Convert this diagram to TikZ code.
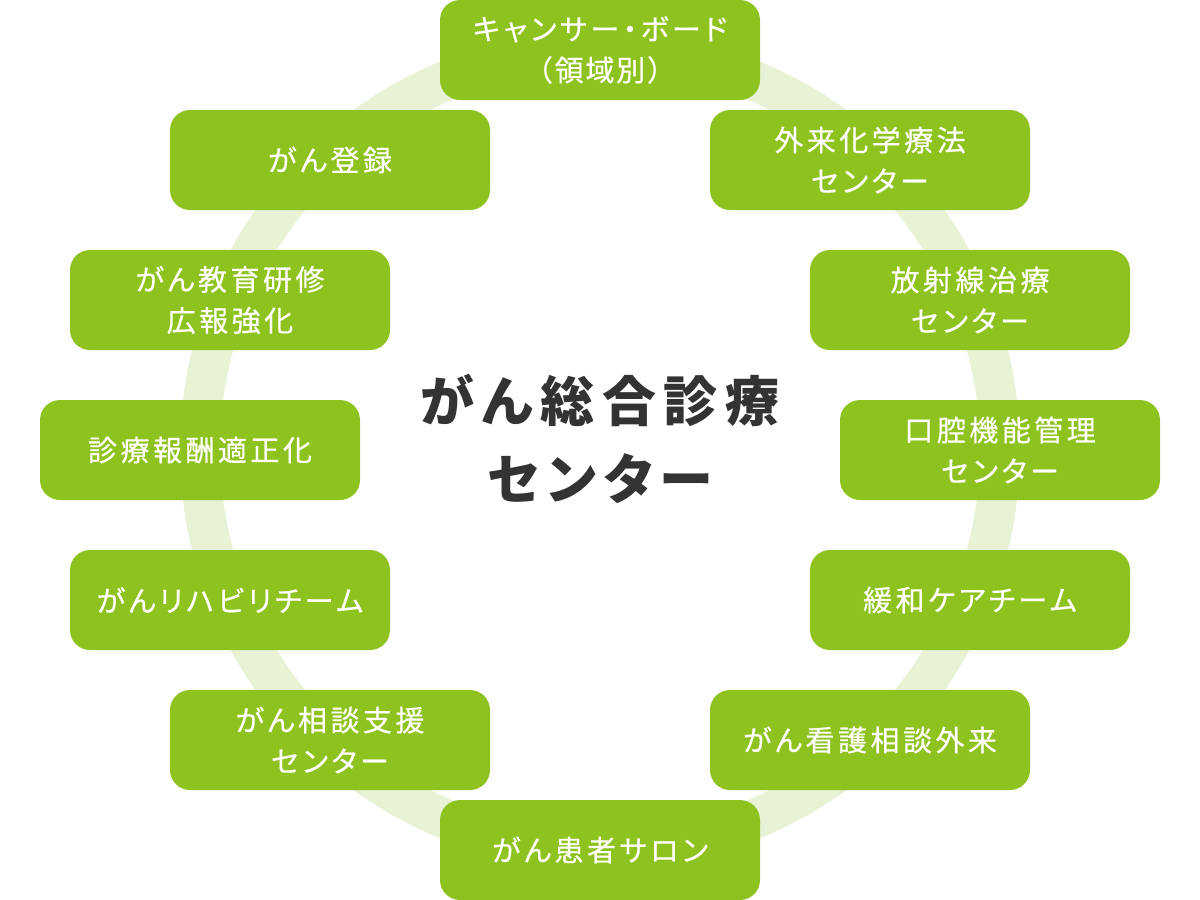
\documentclass[tikz,border=0pt]{standalone}
\usepackage{fontspec}
\newfontfamily\jpbox{Noto Sans CJK JP}[LetterSpace=12,RawFeature=+palt,FakeBold=0.5]
\newfontfamily\jpboxfw{Noto Sans CJK JP}[LetterSpace=6,FakeBold=0.5]
\newfontfamily\jpcen{Noto Sans CJK JP}[LetterSpace=14,RawFeature=+palt]
\definecolor{boxgreen}{HTML}{8DC21F}
\definecolor{ringgreen}{HTML}{E8F2D4}
\definecolor{centext}{HTML}{333333}
\tikzset{
  item/.style={fill=boxgreen, rounded corners=20pt, minimum width=320pt, minimum height=100pt,
    inner sep=0pt, text=white, align=center, font=\jpbox\fontsize{29}{41}\selectfont},
  centre/.style={text=centext, align=center, font=\jpcen\bfseries\fontsize{54}{78}\selectfont}
}
\begin{document}
\begin{tikzpicture}[x=1pt,y=-1pt]
\useasboundingbox (0,0) rectangle (1200,900);
\node[circle, minimum size=800pt, draw=ringgreen, line width=40pt] (ring) at (600,450) {};
\node[centre] (c) at (600,439) {がん総合診療\\センター};
\node[item] (b1) at (600,50) {キャンサー・ボード\\{\jpboxfw （領域別）}};
\node[item] (b2) at (870,160) {外来化学療法\\センター};
\node[item] (b3) at (970,300) {放射線治療\\センター};
\node[item] (b4) at (1000,450) {口腔機能管理\\センター};
\node[item] (b5) at (970,600) {緩和ケアチーム};
\node[item] (b6) at (870,740) {がん看護相談外来};
\node[item] (b7) at (600,850) {がん患者サロン};
\node[item] (b8) at (330,740) {がん相談支援\\センター};
\node[item] (b9) at (230,600) {がんリハビリチーム};
\node[item] (b10) at (200,450) {診療報酬適正化};
\node[item] (b11) at (230,300) {がん教育研修\\広報強化};
\node[item] (b12) at (330,160) {がん登録};
\end{tikzpicture}
\end{document}
